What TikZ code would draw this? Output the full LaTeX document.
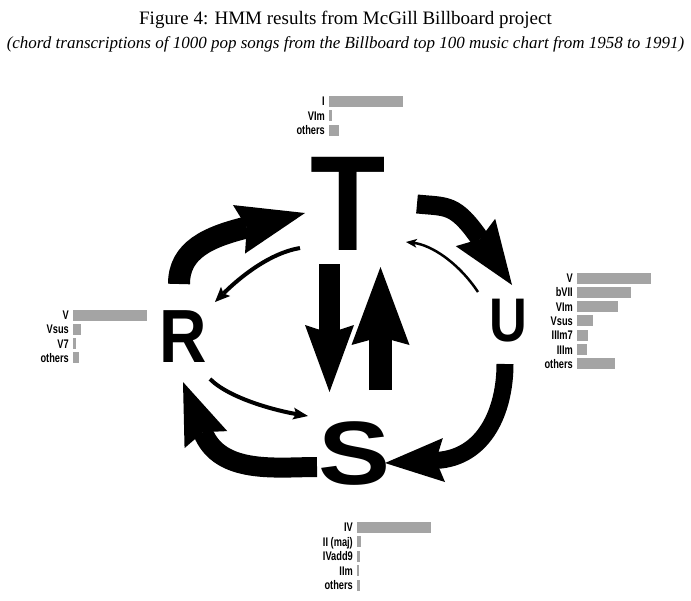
\documentclass[tikz,border=0pt]{standalone}
\usepackage{fontspec}
\setmainfont{Liberation Serif}
\setsansfont{Liberation Sans}
\usetikzlibrary{arrows.meta, calc}
\definecolor{bargray}{HTML}{A4A4A4}

\begin{document}
\begin{tikzpicture}[x=1pt, y=-1pt,
    every node/.style={inner sep=0pt},
    state/.style={anchor=base, font=\sffamily\bfseries\fontsize{#1}{#1}\selectfont},
    chord/.style={anchor=base east, font=\sffamily\bfseries\fontsize{12.5}{12.5}\selectfont},
    bar/.style={fill=bargray},
    fat/.style args={#1/#2/#3}{line width=#1, -{Stealth[length=#2, width=#3, inset=8pt, line width=0pt]}},
    thin/.style args={#1/#2/#3}{line width=#1, -{Stealth[length=#2, width=#3, inset=3pt, line width=0pt]}}
]
\useasboundingbox (0,0) rectangle (691,600);

% Titles
\node[anchor=base, font=\fontsize{19}{19}\selectfont] (title) at (345.5,24)
    {Figure 4: HMM results from McGill Billboard project};
\node[anchor=base, font=\itshape\fontsize{17}{17}\selectfont] (subtitle) at (345.5,48)
    {(chord transcriptions of 1000 pop songs from the Billboard top 100 music chart from 1958 to 1991)};

% States
\node[state=135.5] (T) at (348,250) {\scalebox{0.91}[1]{T}};
\node[state=75.4] (R) at (183,362) {\scalebox{0.87}[1]{R}};
\node[state=61.6] (U) at (508,341) {\scalebox{0.85}[1]{U}};
\node[state=90] (S) at (355,484) {\scalebox{1.2}[1]{S}};

% Big transitions round the circle
\draw[fat=22pt/68pt/50pt] ($(R.base)+(-4,-78)$) .. controls +(0,-34) and +(-97,24) .. ($(T.base)+(-43,-37)$);
\draw[fat=19pt/64pt/48pt] ($(T.base)+(69,-46)$) .. controls +(30,3) and +(-57,-82) .. ($(U.base)+(4,-56)$);
\draw[fat=17pt/59pt/44pt] ($(U.base)+(-3,23)$) .. controls +(0,46) and +(100,-5) .. ($(S.base)+(30,-21)$);
\draw[fat=20pt/62pt/46pt] ($(S.base)+(-38,-17)$) .. controls +(-40,0) and +(37,93) .. ($(R.base)+(0,20)$);

% T <-> S
\draw[fat=21pt/67pt/49pt] ($(T.base)+(-18.5,14)$) -- ($(S.base)+(-25.5,-92)$);
\draw[fat=23pt/78pt/58pt] ($(S.base)+(25.5,-94)$) -- ($(T.base)+(32.5,17)$);

% Small transitions
\draw[thin=4pt/15pt/13pt] ($(T.base)+(-48,-2)$) .. controls +(-30,5) and +(25,-25) .. ($(R.base)+(32,-60)$);
\draw[thin=2.5pt/11pt/9pt] ($(U.base)+(-30,-49)$) .. controls +(-20,-30) and +(25,3) .. ($(T.base)+(58,-8)$);
\draw[thin=4pt/15pt/12pt] ($(R.base)+(27,17)$) .. controls +(20,20) and +(-30,-5) .. ($(S.base)+(-47,-68)$);

% Chord bars of T
\foreach \lab/\len [count=\i from 0] in {I/74, VIm/3.3, others/10} {
  \node[chord] (Tc\i) at (325,105.5+14.5*\i) {\scalebox{0.74}[1]{\lab}};
  \fill[bar] (329,95.5+14.5*\i) rectangle +(\len,11);
}

% Chord bars of R
\foreach \lab/\len [count=\i from 0] in {V/74, Vsus/8, V7/2.7, others/6} {
  \node[chord] (Rc\i) at (69,319.5+14.3*\i) {\scalebox{0.74}[1]{\lab}};
  \fill[bar] (73,309.5+14.3*\i) rectangle +(\len,11);
}

% Chord bars of U
\foreach \lab/\len [count=\i from 0] in {V/74, bVII/54, VIm/41, Vsus/16, IIIm7/11, IIIm/10, others/38} {
  \node[chord] (Uc\i) at (573,282.5+14.3*\i) {\scalebox{0.74}[1]{\lab}};
  \fill[bar] (577,272.5+14.3*\i) rectangle +(\len,11);
}

% Chord bars of S
\foreach \lab/\len [count=\i from 0] in {IV/74, II (maj)/4, IVadd9/2.7, IIm/2, others/2.7} {
  \node[chord] (Sc\i) at (353,531.5+14.5*\i) {\scalebox{0.74}[1]{\lab}};
  \fill[bar] (357,521.5+14.5*\i) rectangle +(\len,11);
}

\end{tikzpicture}
\end{document}
